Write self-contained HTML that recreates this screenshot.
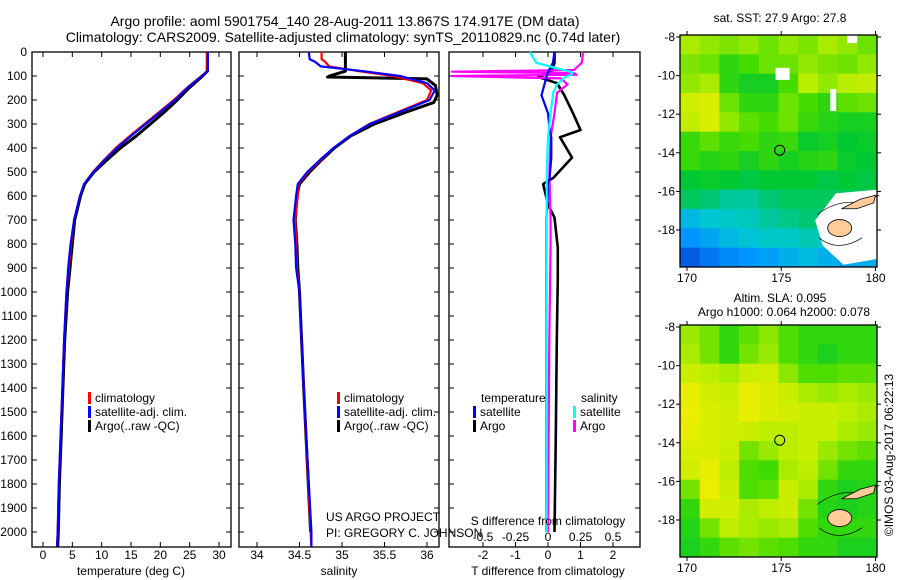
<!DOCTYPE html>
<html><head><meta charset="utf-8"><style>
body{margin:0;background:#fff}
svg{display:block;font-family:"Liberation Sans",sans-serif}
</style></head><body>
<svg id="c" width="900" height="580" viewBox="0 0 900 580">
<text x="345" y="26" font-size="14" text-anchor="middle">Argo profile: aoml 5901754_140 28-Aug-2011 13.867S 174.917E (DM data)</text>
<text x="343" y="42" font-size="14" text-anchor="middle">Climatology: CARS2009. Satellite-adjusted climatology: synTS_20110829.nc (0.74d later)</text>
<text x="780" y="22" font-size="12" text-anchor="middle">sat. SST: 27.9 Argo: 27.8</text>
<text x="780" y="302" font-size="12" text-anchor="middle">Altim. SLA: 0.095</text>
<text x="784" y="316" font-size="12" text-anchor="middle">Argo h1000: 0.064 h2000: 0.078</text>
<text transform="translate(893,455) rotate(-90)" font-size="12" text-anchor="middle">©IMOS 03-Aug-2017 06:22:13</text>
<text x="326" y="521" font-size="12">US ARGO PROJECT</text>
<text x="326" y="537" font-size="12">PI: GREGORY C. JOHNSON</text>
</svg>
<script>
const NS="http://www.w3.org/2000/svg";
const svg=document.getElementById('c');
function mk(tag,attrs,parent){const e=document.createElementNS(NS,tag);for(const k in attrs)e.setAttribute(k,attrs[k]);(parent||svg).appendChild(e);return e;}

// ---- data ----
const depthTicks=[0,100,200,300,400,500,600,700,800,900,1000,1100,1200,1300,1400,1500,1600,1700,1800,1900,2000];
const tempTicks=[0,5,10,15,20,25,30];
const salTicks=[34,34.5,35,35.5,36];
const tdTicks=[-2,-1,0,1,2];
const sdTicks=[-0.5,-0.25,0,0.25,0.5];
const sdTickLabels=["-0.5","-0.25","0","0.25","0.5"];

const tDepth=[0,80,100,150,200,250,300,350,400,450,500,550,600,700,800,900,1000,1200,1400,1600,1800,2000,2060];
const tClim=[28,28,27,24.5,22.3,19.8,17.3,14.8,12.4,10.4,8.5,7.0,6.3,5.3,4.8,4.4,4.0,3.6,3.3,3.0,2.7,2.5,2.4];
const tSat=[28.1,28.1,27.1,24.6,22.5,20.0,17.5,15.0,12.6,10.5,8.6,7.0,6.3,5.3,4.7,4.3,4.0,3.6,3.3,3.0,2.7,2.5,2.4];
const tArgo=[28,28,27.2,24.9,22.9,20.7,18.3,15.9,13.2,10.9,8.7,7.1,6.4,5.4,5.0,4.6,4.2,3.7,3.4,3.1,2.8,2.6,2.5];

const sDepth=[0,30,40,60,80,100,130,160,200,250,300,350,400,450,500,550,600,700,800,900,1000,1400,2000,2060];
const sClim=[34.76,34.76,34.8,34.85,35.2,35.6,35.95,36.05,36.0,35.66,35.32,35.09,34.9,34.75,34.6,34.49,34.48,34.45,34.46,34.47,34.5,34.55,34.63,34.64];
const sSat=[34.61,34.62,34.68,34.75,35.25,35.68,36.0,36.09,36.03,35.68,35.33,35.09,34.9,34.74,34.59,34.48,34.46,34.43,34.45,34.46,34.5,34.55,34.64,34.64];
const sArgoDepth=[0,80,100,104,108,112,140,180,210,250,300,350,400,450,500,550,600,700,800,900,1000,1400,2000];
const sArgo=[35.04,35.04,34.85,34.83,35.4,36.0,36.1,36.12,36.08,35.76,35.38,35.1,34.91,34.76,34.62,34.5,34.47,34.45,34.47,34.48,34.5,34.55,34.63];

const dDepth=[0,45,85,104,130,180,255,325,355,440,525,550,635,690,815,940,1200,1600,2000];
const tDiffArgo=[0.2,0.2,0.1,-0.3,0.28,0.5,0.77,1.0,0.37,0.74,0.16,-0.15,0,0.2,0.3,0.3,0.27,0.24,0.2];
const tDiffSat=[0.2,0.15,0,-0.05,-0.1,-0.2,0,0.05,0.1,0.1,0.05,0,-0.02,-0.05,-0.05,-0.05,-0.05,-0.05,-0.05];
const sdDepth=[0,45,75,82,88,95,100,110,135,170,255,355,500,700,800,1200,2000];
const sDiffArgo=[0.27,0.26,0.2,-0.74,0.2,0.22,-0.74,0.1,0.15,0.07,0.05,0.02,0.01,0.02,0.02,0.01,0.0];
const sDiffSat=[-0.14,-0.09,0.12,0.17,0.19,0.18,0.15,0.12,0.07,0.04,0.02,0,-0.01,-0.01,-0.01,-0.01,-0.01];

// map grids (0=blue,0.5=green,1=yellow), rows lat -8..-20, cols 170..180
const sstGrid=[
[0.78,0.75,0.72,0.75,0.7,0.75,0.72,0.78,0.75,0.7],
[0.72,0.7,0.6,0.65,0.7,0.7,0.75,0.72,0.7,0.75],
[0.75,0.78,0.6,0.55,0.55,0.65,0.8,0.75,0.8,0.82],
[0.85,0.88,0.7,0.6,0.6,0.7,0.65,0.6,0.68,0.7],
[0.82,0.88,0.75,0.68,0.65,0.7,0.62,0.58,0.55,0.55],
[0.62,0.68,0.62,0.65,0.6,0.62,0.52,0.55,0.5,0.52],
[0.62,0.58,0.6,0.55,0.6,0.55,0.58,0.6,0.52,0.5],
[0.5,0.52,0.5,0.48,0.5,0.5,0.5,0.48,0.5,0.48],
[0.46,0.44,0.4,0.4,0.44,0.46,0.46,0.46,0.46,0.46],
[0.32,0.35,0.36,0.37,0.4,0.42,0.44,0.42,0.44,0.46],
[0.25,0.28,0.32,0.34,0.36,0.36,0.38,0.36,0.35,0.35],
[0.12,0.18,0.22,0.25,0.27,0.3,0.32,0.3,0.28,0.3]];
const slaGrid=[
[0.76,0.71,0.61,0.68,0.74,0.66,0.61,0.61,0.61,0.61],
[0.78,0.71,0.61,0.71,0.76,0.66,0.61,0.56,0.61,0.61],
[0.84,0.81,0.78,0.84,0.86,0.74,0.66,0.66,0.68,0.68],
[0.91,0.86,0.84,0.91,0.88,0.84,0.78,0.76,0.78,0.76],
[0.94,0.88,0.86,0.91,0.88,0.86,0.84,0.84,0.81,0.78],
[0.91,0.88,0.86,0.84,0.81,0.81,0.84,0.84,0.78,0.76],
[0.88,0.88,0.84,0.71,0.76,0.81,0.84,0.76,0.71,0.68],
[0.86,0.91,0.81,0.66,0.64,0.78,0.81,0.71,0.61,0.61],
[0.71,0.94,0.84,0.66,0.68,0.84,0.78,0.61,0.56,0.58],
[0.61,0.86,0.86,0.78,0.81,0.84,0.71,0.58,0.56,0.58],
[0.58,0.71,0.81,0.78,0.76,0.78,0.66,0.61,0.61,0.61],
[0.56,0.61,0.68,0.71,0.68,0.66,0.61,0.61,0.56,0.56]];

// ---- axes functions ----
const Y=d=>52+d*0.24;
const XT=v=>43+v*5.8667;
const XS=v=>257+(v-34)*85;
const XTD=v=>548+v*32.5;
const XSD=v=>548+v*130;
const BOT=547;

function frame(x0,x1,name){mk('rect',{x:x0,y:52,width:x1-x0,height:BOT-52,fill:'none',stroke:'#000','stroke-width':1.3,});}
function yTicks(x0,x1){depthTicks.forEach(d=>{mk('line',{x1:x0,x2:x0+5,y1:Y(d),y2:Y(d),stroke:'#000'});mk('line',{x1:x1-5,x2:x1,y1:Y(d),y2:Y(d),stroke:'#000'});});}
function xTicks(vals,fx){vals.forEach(v=>{const x=fx(v);mk('line',{x1:x,x2:x,y1:BOT,y2:BOT-5,stroke:'#000'});mk('line',{x1:x,x2:x,y1:52,y2:57,stroke:'#000'});});}
function xLabels(vals,labels,fx,y,name,minX){vals.forEach((v,i)=>{const t=mk('text',{x:Math.max(fx(v),minX||0),y:y,'font-size':12,'text-anchor':'middle'});t.textContent=labels[i];});}
function line(xs,ds,fx,color,w,name){const p=xs.map((v,i)=>(i?'L':'M')+fx(v).toFixed(1)+','+Y(ds[i]).toFixed(1)).join('');const e=mk('path',{d:p,fill:'none',stroke:color,'stroke-width':w,'stroke-linejoin':'round'});}
function legend(x,y,color,label,name){mk('rect',{x:x,y:y-10,width:3,height:12,fill:color});const t=mk('text',{x:x+7,y:y,'font-size':12});t.textContent=label;}

depthTicks.forEach(d=>{const t=mk('text',{x:27,y:Y(d)+4,'font-size':12,'text-anchor':'end'});t.textContent=d;});

// panel 1 temperature
frame(32,231,'temperature-panel');yTicks(32,231);xTicks(tempTicks,XT);
xLabels(tempTicks,tempTicks.map(String),XT,559,'temperature-tick-label');
line(tArgo,tDepth,XT,'#000',3,'temperature-argo-line');
line(tClim,tDepth,XT,'#f00',2.2,'temperature-climatology-line');
line(tSat,tDepth,XT,'#00f',2.2,'temperature-satellite-line');
{const t=mk('text',{x:131,y:575,'font-size':12,'text-anchor':'middle'});t.textContent='temperature (deg C)';}
legend(88,402,'#f00','climatology','legend-climatology');
legend(88,416,'#00f','satellite-adj. clim.','legend-satellite-adj');
legend(88,430,'#000','Argo(..raw -QC)','legend-argo');

// panel 2 salinity
frame(239,439,'salinity-panel');yTicks(239,439);xTicks(salTicks,XS);
xLabels(salTicks,["34","34.5","35","35.5","36"],XS,559,'salinity-tick-label');
line(sArgo,sArgoDepth,XS,'#000',3,'salinity-argo-line');
line(sClim,sDepth,XS,'#f00',2.2,'salinity-climatology-line');
line(sSat,sDepth,XS,'#00f',2.2,'salinity-satellite-line');
{const t=mk('text',{x:339,y:575,'font-size':12,'text-anchor':'middle'});t.textContent='salinity';}
legend(337,402,'#f00','climatology','legend-climatology-2');
legend(337,416,'#00f','satellite-adj. clim.','legend-satellite-adj-2');
legend(337,430,'#000','Argo(..raw -QC)','legend-argo-2');

// panel 3 differences
frame(449,640,'difference-panel');yTicks(449,640);xTicks(tdTicks,XTD);
xLabels(tdTicks,tdTicks.map(String),XTD,559,'t-diff-tick-label');
xLabels(sdTicks,sdTickLabels,XSD,541,'s-diff-tick-label',466);
line(tDiffArgo,dDepth,XTD,'#000',2.6,'t-diff-argo-line');
line(sDiffArgo,sdDepth,XSD,'#f0f',2.2,'s-diff-argo-line');
line(tDiffSat,dDepth,XTD,'#00f',2.2,'t-diff-satellite-line');
line(sDiffSat,sdDepth,XSD,'#0ff',2.2,'s-diff-satellite-line');
{const t=mk('text',{x:548,y:575,'font-size':12,'text-anchor':'middle'});t.textContent='T difference from climatology';}
{const t=mk('text',{x:548,y:525,'font-size':12,'text-anchor':'middle'});t.textContent='S difference from climatology';}
{const t=mk('text',{x:481,y:402,'font-size':12});t.textContent='temperature';}
{const t=mk('text',{x:581,y:402,'font-size':12});t.textContent='salinity';}
legend(473,416,'#00f','satellite','legend-t-satellite');
legend(473,430,'#000','Argo','legend-t-argo');
legend(573,416,'#0ff','satellite','legend-s-satellite');
legend(573,430,'#f0f','Argo','legend-s-argo');

// ---- maps ----
function col(v){const stops=[[0,[0,40,200]],[0.25,[0,150,255]],[0.35,[0,200,210]],[0.5,[0,200,50]],[0.65,[70,220,0]],[0.8,[185,238,0]],[0.92,[235,238,0]]];
 for(let i=1;i<stops.length;i++){if(v<=stops[i][0]){const a=stops[i-1],b=stops[i],f=(v-a[0])/(b[0]-a[0]);return 'rgb('+a[1].map((c,j)=>Math.round(c+(b[1][j]-c)*f)).join(',')+')';}}return 'rgb(235,238,0)';}
function map(y0,grid,name,white){
 const x0=680,x1=877,y1=y0+232;
 const LX=lon=>687+(lon-170)*18.85, LY=lat=>y0+2+(-8-lat)*19.3;
 const g=mk('g',{});
 const cw=(x1-x0)/grid[0].length,ch=(y1-y0)/grid.length;
 grid.forEach((row,r)=>row.forEach((v,c)=>{const e=mk('rect',{x:x0+c*cw,y:y0+r*ch,width:cw+0.5,height:ch+0.5,fill:col(v)},g);}));
 if(white){mk('path',{d:`M${LX(177.9)},${LY(-16.1)} L${LX(180.2)},${LY(-15.9)} L${x1},${LY(-19.5)} L${LX(178.3)},${LY(-19.8)} L${LX(177.2)},${LY(-18.8)} L${LX(176.8)},${LY(-17.5)} Z`,fill:'#fff'},g);
  mk('rect',{x:LX(174.7),y:LY(-9.6),width:14,height:12,fill:'#fff'},g);mk('rect',{x:LX(177.6),y:LY(-10.7),width:6,height:22,fill:'#fff'},g);mk('rect',{x:LX(178.5),y:y0,width:10,height:8,fill:'#fff'},g);}
 mk('path',{d:`M${LX(176.9)},${LY(-17.2)} Q${LX(178)},${LY(-16.4)} ${LX(179.2)},${LY(-16.6)} L${LX(180.2)},${LY(-16.2)} M${LX(177)},${LY(-18.4)} Q${LX(178)},${LY(-19.2)} ${LX(179.3)},${LY(-18.4)}`,fill:'none',stroke:'#000','stroke-width':0.7},g);
 mk('ellipse',{cx:LX(178.1),cy:LY(-17.9),rx:12,ry:8.5,fill:'#fc9',stroke:'#000','stroke-width':0.8},g);
 mk('path',{d:`M${LX(178.2)},${LY(-16.9)} L${LX(179.2)},${LY(-16.4)} L${LX(180)},${LY(-16.2)} L${LX(179.9)},${LY(-16.6)} L${LX(179)},${LY(-16.9)} Z`,fill:'#fc9',stroke:'#000','stroke-width':0.8},g);
 mk('rect',{x:x0,y:y0,width:x1-x0,height:y1-y0,fill:'none',stroke:'#000','stroke-width':1.3},g);
 const c=mk('circle',{cx:LX(174.917),cy:LY(-13.867),r:5,fill:'none',stroke:'#000','stroke-width':1},g);
 [-8,-10,-12,-14,-16,-18].forEach(lat=>{const y=LY(lat);mk('line',{x1:x0,x2:x0-4,y1:y,y2:y,stroke:'#000'});mk('line',{x1:x1,x2:x1+4,y1:y,y2:y,stroke:'#000'});const t=mk('text',{x:x0-5,y:y+4,'font-size':12,'text-anchor':'end'});t.textContent=lat;});
 [170,175,180].forEach(lon=>{const x=LX(lon);mk('line',{x1:x,x2:x,y1:y0,y2:y0-4,stroke:'#000'});mk('line',{x1:x,x2:x,y1:y1,y2:y1+4,stroke:'#000'});const t=mk('text',{x:x,y:y1+15,'font-size':12,'text-anchor':'middle'});t.textContent=lon;});
}
map(35,sstGrid,'sst-map',true);
map(325,slaGrid,'sla-map',false);
</script>
</body></html>
